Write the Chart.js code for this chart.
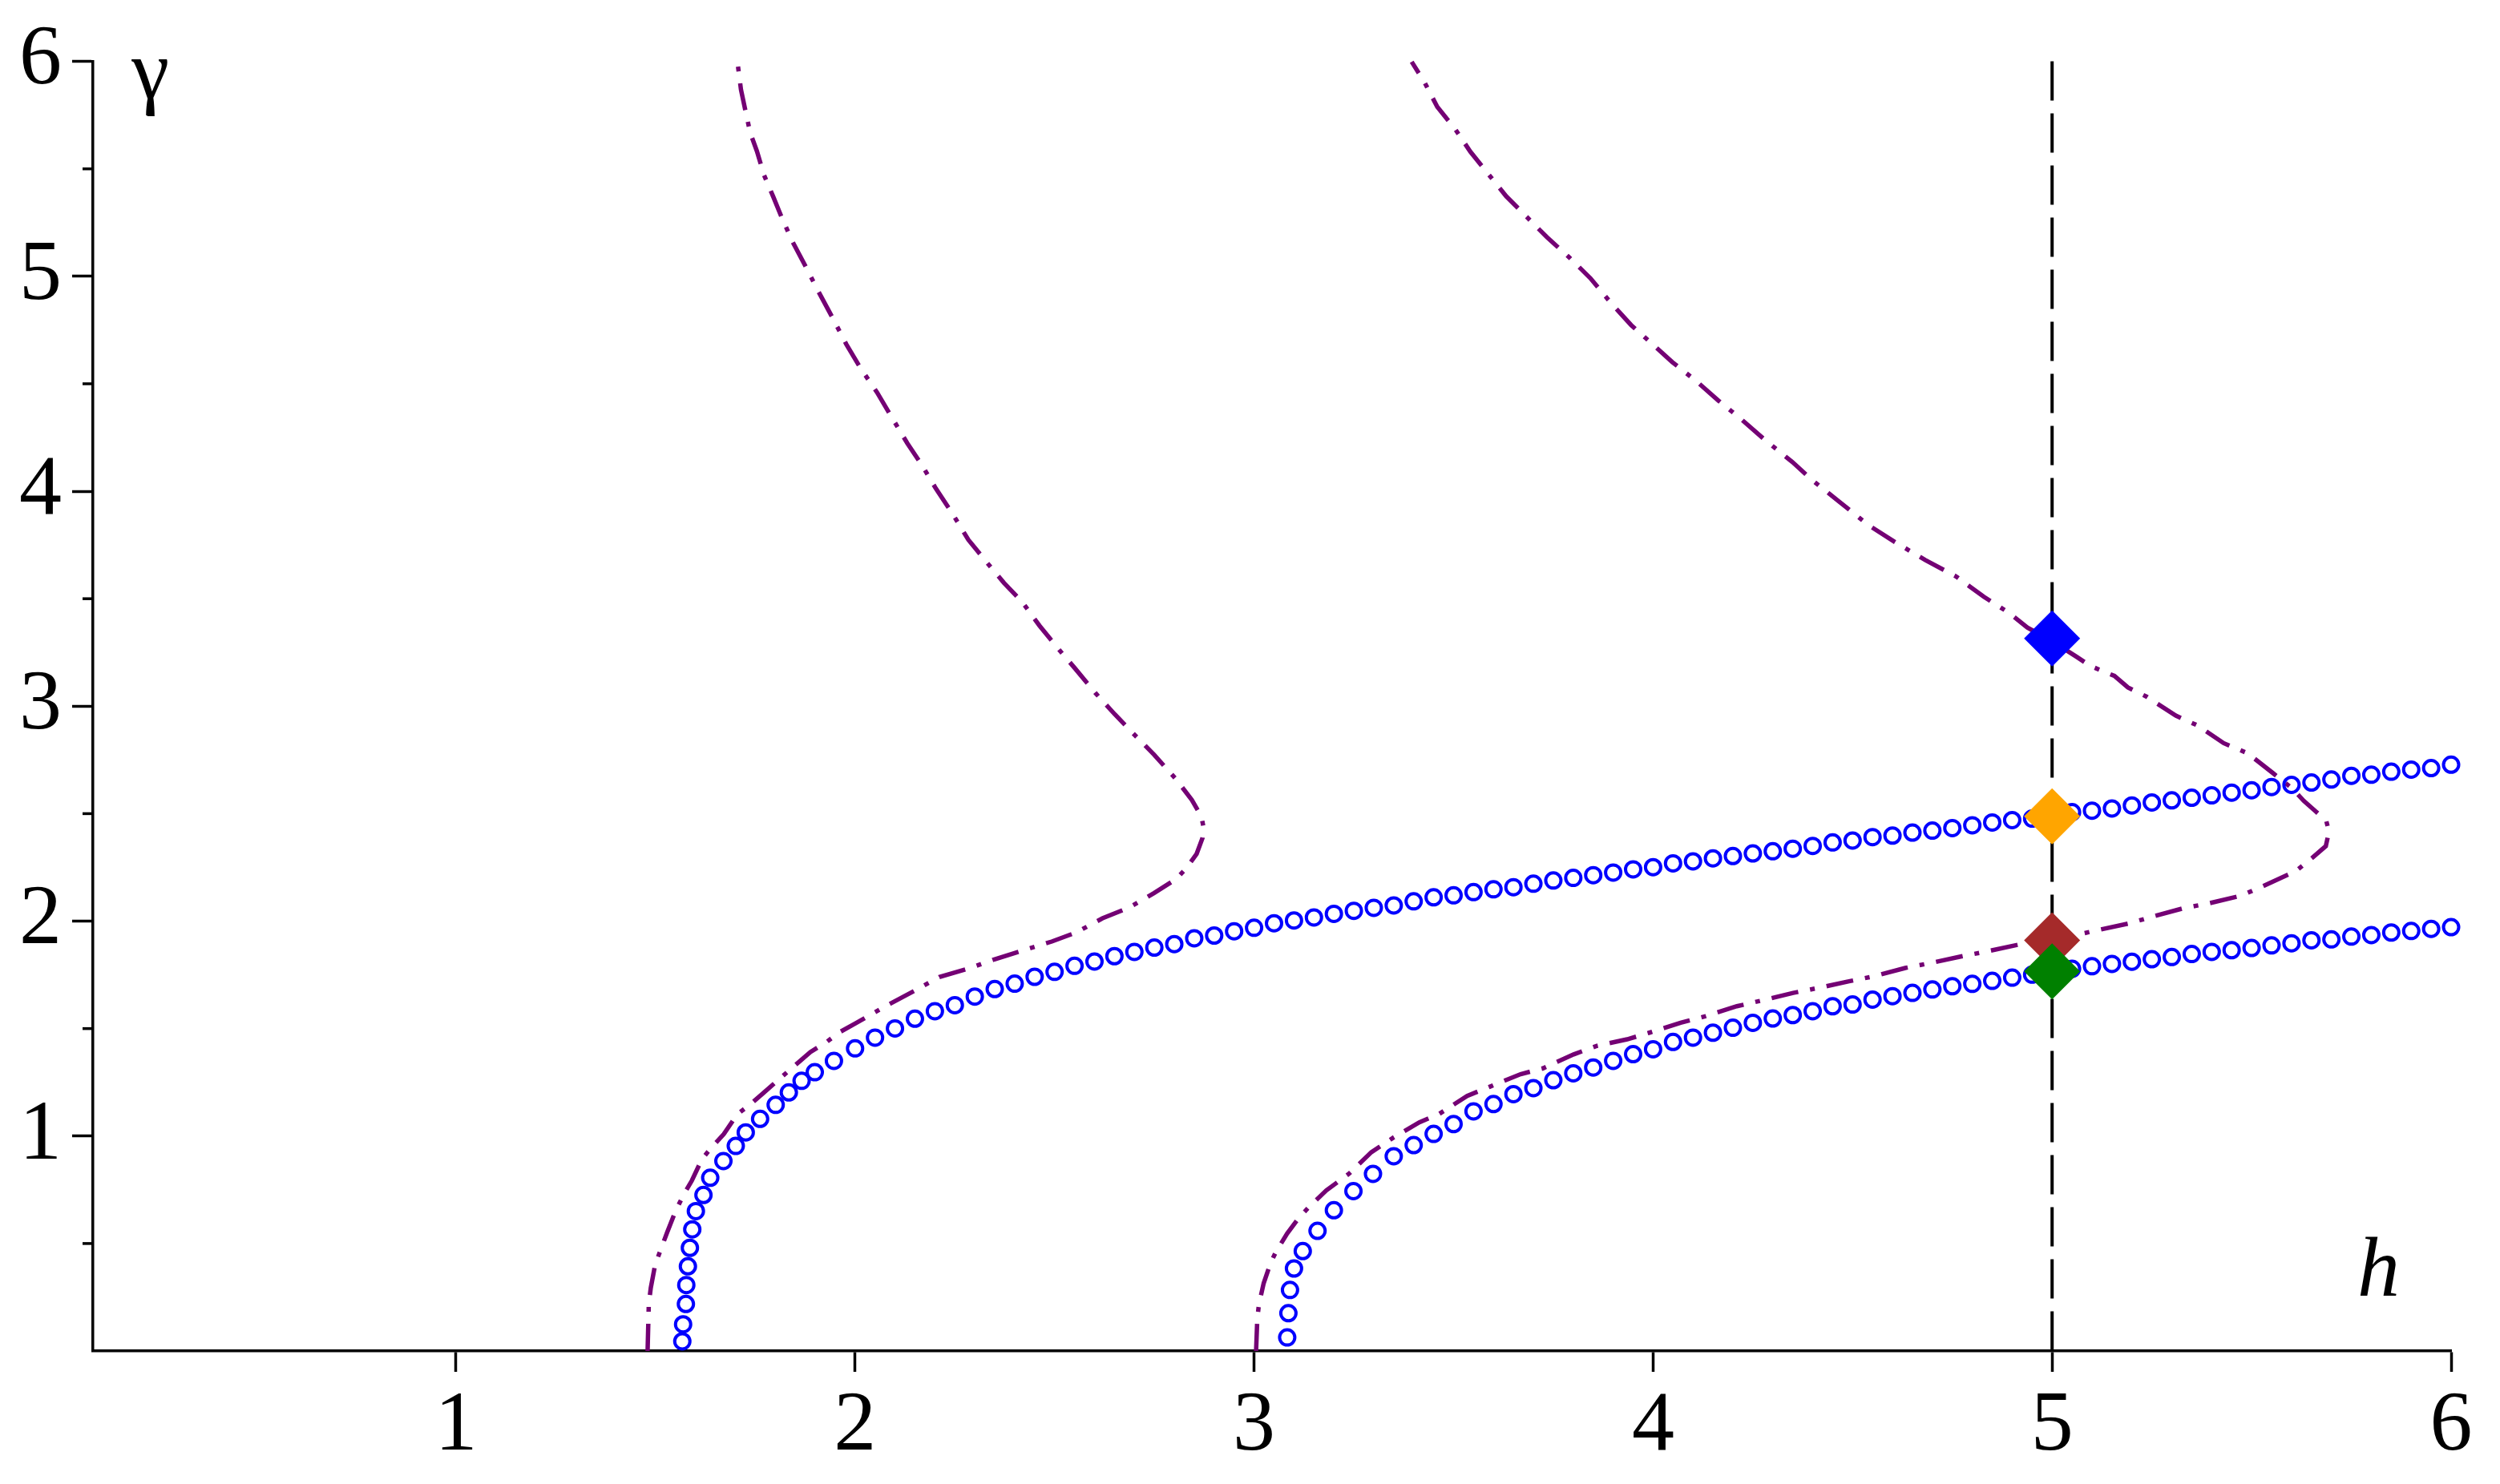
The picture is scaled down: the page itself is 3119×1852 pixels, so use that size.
<!DOCTYPE html>
<html>
<head>
<meta charset="utf-8">
<title>h - gamma curves</title>
<script src="https://cdn.jsdelivr.net/npm/chart.js@4.4.1/dist/chart.umd.min.js"></script>
<style>
    html, body { margin: 0; padding: 0; background: #ffffff; }
    #plot { display: block; }
</style>
</head>
<body>
<canvas id="plot" width="3119" height="1852"></canvas>
<script>
// Axis ranges and ticks
const xRange = [0.09, 6];
const yRange = [0, 6];
const xTicks = [1, 2, 3, 4, 5, 6];
const yTicks = [1, 2, 3, 4, 5, 6];
const yMinorTicks = [0.5, 1.5, 2.5, 3.5, 4.5, 5.5];

// Blue circles, left branch
const blueLeftX = [1.567, 1.569, 1.576, 1.577, 1.581, 1.586, 1.592, 1.601, 1.620, 1.637,
    1.670, 1.701, 1.726, 1.762, 1.801, 1.834, 1.866, 1.899, 1.947, 2.00,
    2.05, 2.10, 2.15, 2.20, 2.25, 2.30, 2.35, 2.40, 2.45, 2.50,
    2.55, 2.60, 2.65, 2.70, 2.75, 2.80, 2.85, 2.90, 2.95, 3.00,
    3.05, 3.10, 3.15, 3.20, 3.25, 3.30, 3.35, 3.40, 3.45, 3.50,
    3.55, 3.60, 3.65, 3.70, 3.75, 3.80, 3.85, 3.90, 3.95, 4.00,
    4.05, 4.10, 4.15, 4.20, 4.25, 4.30, 4.35, 4.40, 4.45, 4.50,
    4.55, 4.60, 4.65, 4.70, 4.75, 4.80, 4.85, 4.90, 4.95, 5.00,
    5.05, 5.10, 5.15, 5.20, 5.25, 5.30, 5.35, 5.40, 5.45, 5.50,
    5.55, 5.60, 5.65, 5.70, 5.75, 5.80, 5.85, 5.90, 5.95, 6.00, 6.05];
const blueLeftY = [0.045, 0.124, 0.219, 0.307, 0.394, 0.480, 0.566, 0.651, 0.726, 0.806,
    0.884, 0.954, 1.017, 1.080, 1.145, 1.203, 1.257, 1.297, 1.350, 1.408,
    1.458, 1.501, 1.546, 1.581, 1.609, 1.649, 1.684, 1.709, 1.741, 1.764,
    1.792, 1.812, 1.837, 1.857, 1.877, 1.893, 1.920, 1.933, 1.953, 1.969,
    1.990, 2.003, 2.017, 2.034, 2.048, 2.062, 2.073, 2.092, 2.111, 2.120,
    2.135, 2.148, 2.158, 2.174, 2.189, 2.201, 2.214, 2.226, 2.241, 2.251,
    2.269, 2.278, 2.292, 2.303, 2.315, 2.325, 2.337, 2.350, 2.366, 2.375,
    2.391, 2.398, 2.412, 2.421, 2.433, 2.446, 2.459, 2.470, 2.477, 2.488,
    2.507, 2.514, 2.524, 2.538, 2.552, 2.562, 2.574, 2.585, 2.598, 2.609,
    2.624, 2.634, 2.645, 2.659, 2.676, 2.681, 2.695, 2.705, 2.712, 2.728, 2.738];

// Blue circles, right branch
const blueRightX = [3.083, 3.086, 3.090, 3.100, 3.122, 3.159, 3.200, 3.249, 3.298, 3.350,
    3.40, 3.45, 3.50, 3.55, 3.60, 3.65, 3.70, 3.75, 3.80, 3.85,
    3.90, 3.95, 4.00, 4.05, 4.10, 4.15, 4.20, 4.25, 4.30, 4.35,
    4.40, 4.45, 4.50, 4.55, 4.60, 4.65, 4.70, 4.75, 4.80, 4.85,
    4.90, 4.95, 5.00, 5.05, 5.10, 5.15, 5.20, 5.25, 5.30, 5.35,
    5.40, 5.45, 5.50, 5.55, 5.60, 5.65, 5.70, 5.75, 5.80, 5.85,
    5.90, 5.95, 6.00, 6.05];
const blueRightY = [0.063, 0.176, 0.284, 0.384, 0.465, 0.559, 0.655, 0.744, 0.824, 0.906,
    0.958, 1.010, 1.056, 1.115, 1.149, 1.195, 1.223, 1.260, 1.292, 1.319,
    1.350, 1.381, 1.404, 1.438, 1.458, 1.481, 1.504, 1.527, 1.547, 1.563,
    1.581, 1.604, 1.612, 1.635, 1.651, 1.666, 1.682, 1.697, 1.708, 1.722,
    1.737, 1.751, 1.766, 1.778, 1.790, 1.801, 1.811, 1.823, 1.833, 1.847,
    1.857, 1.865, 1.875, 1.887, 1.897, 1.911, 1.915, 1.928, 1.935, 1.947,
    1.954, 1.964, 1.972, 1.978];

// Dash-dot curve, left
const purpleLeftX = [1.480, 1.483, 1.488, 1.499, 1.514, 1.529, 1.550, 1.570, 1.591, 1.616,
    1.642, 1.671, 1.704, 1.739, 1.770, 1.816, 1.847, 1.888, 1.929, 1.960,
    2.001, 2.082, 2.154, 2.211, 2.287, 2.349, 2.421, 2.493, 2.554, 2.620,
    2.687, 2.749, 2.805, 2.830, 2.856, 2.871, 2.873, 2.868, 2.844, 2.803,
    2.749, 2.696, 2.651, 2.602, 2.552, 2.512, 2.462, 2.418, 2.373, 2.328,
    2.284, 2.243, 2.203, 2.167, 2.131, 2.091, 2.055, 2.014, 1.978, 1.943,
    1.907, 1.876, 1.844, 1.817, 1.795, 1.772, 1.754, 1.737, 1.724, 1.714,
    1.708, 1.705];
const purpleLeftY = [0.000, 0.219, 0.294, 0.402, 0.477, 0.552, 0.651, 0.726, 0.793, 0.892,
    0.951, 1.009, 1.100, 1.150, 1.200, 1.275, 1.325, 1.391, 1.438, 1.482,
    1.524, 1.610, 1.681, 1.740, 1.781, 1.822, 1.864, 1.905, 1.947, 2.013,
    2.063, 2.130, 2.196, 2.246, 2.313, 2.388, 2.439, 2.487, 2.564, 2.663,
    2.775, 2.875, 2.962, 3.062, 3.174, 3.261, 3.375, 3.487, 3.574, 3.674,
    3.774, 3.899, 4.011, 4.123, 4.223, 4.347, 4.460, 4.572, 4.684, 4.809,
    4.933, 5.046, 5.158, 5.270, 5.370, 5.470, 5.582, 5.669, 5.781, 5.869,
    5.956, 6.000];

// Dash-dot curve, right
const purpleRightX = [3.005, 3.008, 3.012, 3.024, 3.041, 3.055, 3.083, 3.114, 3.142, 3.181,
    3.238, 3.294, 3.350, 3.414, 3.463, 3.534, 3.590, 3.668, 3.724, 3.801,
    3.858, 3.935, 3.991, 4.069, 4.132, 4.210, 4.273, 4.351, 4.414, 4.491,
    4.555, 4.632, 4.696, 4.773, 4.836, 4.914, 5.000, 5.052, 5.112, 5.194,
    5.254, 5.331, 5.391, 5.473, 5.529, 5.610, 5.653, 5.686, 5.694, 5.687,
    5.661, 5.631, 5.602, 5.554, 5.490, 5.430, 5.366, 5.310, 5.237, 5.190,
    5.156, 5.096, 5.062, 5.002, 4.938, 4.893, 4.829, 4.759, 4.682, 4.605,
    4.541, 4.464, 4.400, 4.349, 4.279, 4.221, 4.164, 4.106, 4.048, 3.997,
    3.945, 3.894, 3.843, 3.791, 3.734, 3.683, 3.632, 3.587, 3.542, 3.504,
    3.459, 3.427, 3.395];
const purpleRightY = [0.000, 0.148, 0.215, 0.315, 0.408, 0.462, 0.547, 0.624, 0.678, 0.747,
    0.825, 0.925, 0.994, 1.064, 1.102, 1.187, 1.229, 1.288, 1.315, 1.380,
    1.419, 1.450, 1.481, 1.527, 1.558, 1.604, 1.631, 1.666, 1.689, 1.720,
    1.744, 1.782, 1.805, 1.836, 1.859, 1.890, 1.911, 1.932, 1.957, 1.990,
    2.022, 2.061, 2.082, 2.118, 2.163, 2.232, 2.296, 2.349, 2.417, 2.467,
    2.510, 2.559, 2.617, 2.688, 2.781, 2.828, 2.909, 2.956, 3.044, 3.087,
    3.141, 3.187, 3.229, 3.300, 3.366, 3.433, 3.509, 3.604, 3.680, 3.765,
    3.841, 3.955, 4.050, 4.136, 4.241, 4.335, 4.421, 4.516, 4.601, 4.687,
    4.773, 4.877, 4.991, 5.086, 5.182, 5.277, 5.372, 5.476, 5.580, 5.685,
    5.789, 5.903, 5.998];

// Marked points on the line h = 5
const markerH = 5;
const markerGamma = [3.315, 2.488, 1.911, 1.766];

// Axis letters, placed in data coordinates
const gammaLabelAt = [0.187, 5.83];
const hLabelAt = [5.765, 0.257];

function toPoints(xs, ys) {
    return xs.map((x, i) => ({ x: x, y: ys[i] }));
}

const serif = '"Liberation Serif", "Times New Roman", serif';
const purple = '#740074';

// Short minor ticks on the y axis plus the two axis letters
const extrasPlugin = {
    id: 'extras',
    afterDraw(chart) {
        const ctx = chart.ctx;
        const xs = chart.scales.x;
        const ys = chart.scales.y;

        ctx.save();
        ctx.strokeStyle = '#000';
        ctx.lineWidth = 3.5;
        yMinorTicks.forEach(v => {
            const py = ys.getPixelForValue(v);
            ctx.beginPath();
            ctx.moveTo(ys.right - 13, py);
            ctx.lineTo(ys.right, py);
            ctx.stroke();
        });

        ctx.fillStyle = '#000';
        ctx.textBaseline = 'alphabetic';
        ctx.textAlign = 'left';
        ctx.font = '106px ' + serif;
        ctx.fillText('γ', xs.getPixelForValue(gammaLabelAt[0]), ys.getPixelForValue(gammaLabelAt[1]));
        ctx.font = 'italic 106px ' + serif;
        ctx.fillText('h', xs.getPixelForValue(hLabelAt[0]), ys.getPixelForValue(hLabelAt[1]));
        ctx.restore();
    }
};

function drawChart() {
    const ctx = document.getElementById('plot').getContext('2d');

    const tickFont = { family: serif, size: 106 };

    new Chart(ctx, {
        type: 'scatter',
        data: {
            datasets: [
                {
                    // diamonds: later points sit on top
                    data: markerGamma.map(g => ({ x: markerH, y: g })),
                    pointStyle: 'rectRot',
                    pointRadius: 35,
                    pointBorderWidth: 0,
                    pointBackgroundColor: ['#0000ff', '#ffa500', '#a52a2a', '#008000'],
                    pointBorderColor: ['#0000ff', '#ffa500', '#a52a2a', '#008000'],
                    clip: false,
                    order: 1
                },
                {
                    data: toPoints(blueLeftX, blueLeftY),
                    pointStyle: 'circle',
                    pointRadius: 9.5,
                    pointBorderWidth: 4,
                    pointBorderColor: '#0000ff',
                    pointBackgroundColor: 'rgba(0,0,0,0)',
                    clip: false,
                    order: 2
                },
                {
                    data: toPoints(blueRightX, blueRightY),
                    pointStyle: 'circle',
                    pointRadius: 9.5,
                    pointBorderWidth: 4,
                    pointBorderColor: '#0000ff',
                    pointBackgroundColor: 'rgba(0,0,0,0)',
                    clip: false,
                    order: 3
                },
                {
                    // vertical dashed line h = 5
                    data: [{ x: markerH, y: yRange[1] }, { x: markerH, y: yRange[0] }],
                    showLine: true,
                    borderColor: '#000',
                    borderWidth: 4,
                    borderDash: [49, 16],
                    pointRadius: 0,
                    clip: false,
                    order: 4
                },
                {
                    data: toPoints(purpleLeftX, purpleLeftY),
                    showLine: true,
                    borderColor: purple,
                    borderWidth: 5.5,
                    borderDash: [34, 15, 6, 15],
                    borderCapStyle: 'butt',
                    tension: 0,
                    pointRadius: 0,
                    clip: false,
                    order: 5
                },
                {
                    data: toPoints(purpleRightX, purpleRightY),
                    showLine: true,
                    borderColor: purple,
                    borderWidth: 5.5,
                    borderDash: [34, 15, 6, 15],
                    borderCapStyle: 'butt',
                    tension: 0,
                    pointRadius: 0,
                    clip: false,
                    order: 6
                }
            ]
        },
        options: {
            responsive: false,
            animation: false,
            events: [],
            layout: { padding: { top: 75, right: 61, left: 0, bottom: 0 } },
            plugins: {
                legend: { display: false },
                tooltip: { enabled: false }
            },
            scales: {
                x: {
                    type: 'linear',
                    min: xRange[0],
                    max: xRange[1],
                    afterBuildTicks: scale => {
                        scale.ticks = xTicks.map(v => ({ value: v }));
                    },
                    afterFit: scale => { scale.height = 166; },
                    ticks: {
                        font: tickFont,
                        color: '#000',
                        padding: 6,
                        maxRotation: 0,
                        autoSkip: false
                    },
                    grid: {
                        drawOnChartArea: false,
                        tickLength: 26,
                        tickWidth: 3.5,
                        tickColor: '#000'
                    },
                    border: { color: '#000', width: 3.5 }
                },
                y: {
                    type: 'linear',
                    min: yRange[0],
                    max: yRange[1],
                    afterBuildTicks: scale => {
                        scale.ticks = yMinorTicks.concat(yTicks)
                            .sort((a, b) => a - b)
                            .map(v => ({ value: v }));
                    },
                    afterFit: scale => { scale.width = 116; },
                    ticks: {
                        font: tickFont,
                        color: '#000',
                        padding: 13,
                        autoSkip: false,
                        callback: value => yTicks.includes(value) ? String(value) : ''
                    },
                    grid: {
                        drawOnChartArea: false,
                        tickLength: 26,
                        tickWidth: 3.5,
                        tickColor: context => yTicks.includes(context.tick.value) ? '#000' : 'rgba(0,0,0,0)'
                    },
                    border: { color: '#000', width: 3.5 }
                }
            }
        },
        plugins: [extrasPlugin]
    });
}

document.addEventListener('DOMContentLoaded', function() {
    // make sure the serif face is ready before the canvas draws text
    Promise.all([
        document.fonts.load('106px "Liberation Serif"', '0123456γ'),
        document.fonts.load('italic 106px "Liberation Serif"', 'h')
    ]).catch(() => null).then(drawChart);
});
</script>
</body>
</html>
